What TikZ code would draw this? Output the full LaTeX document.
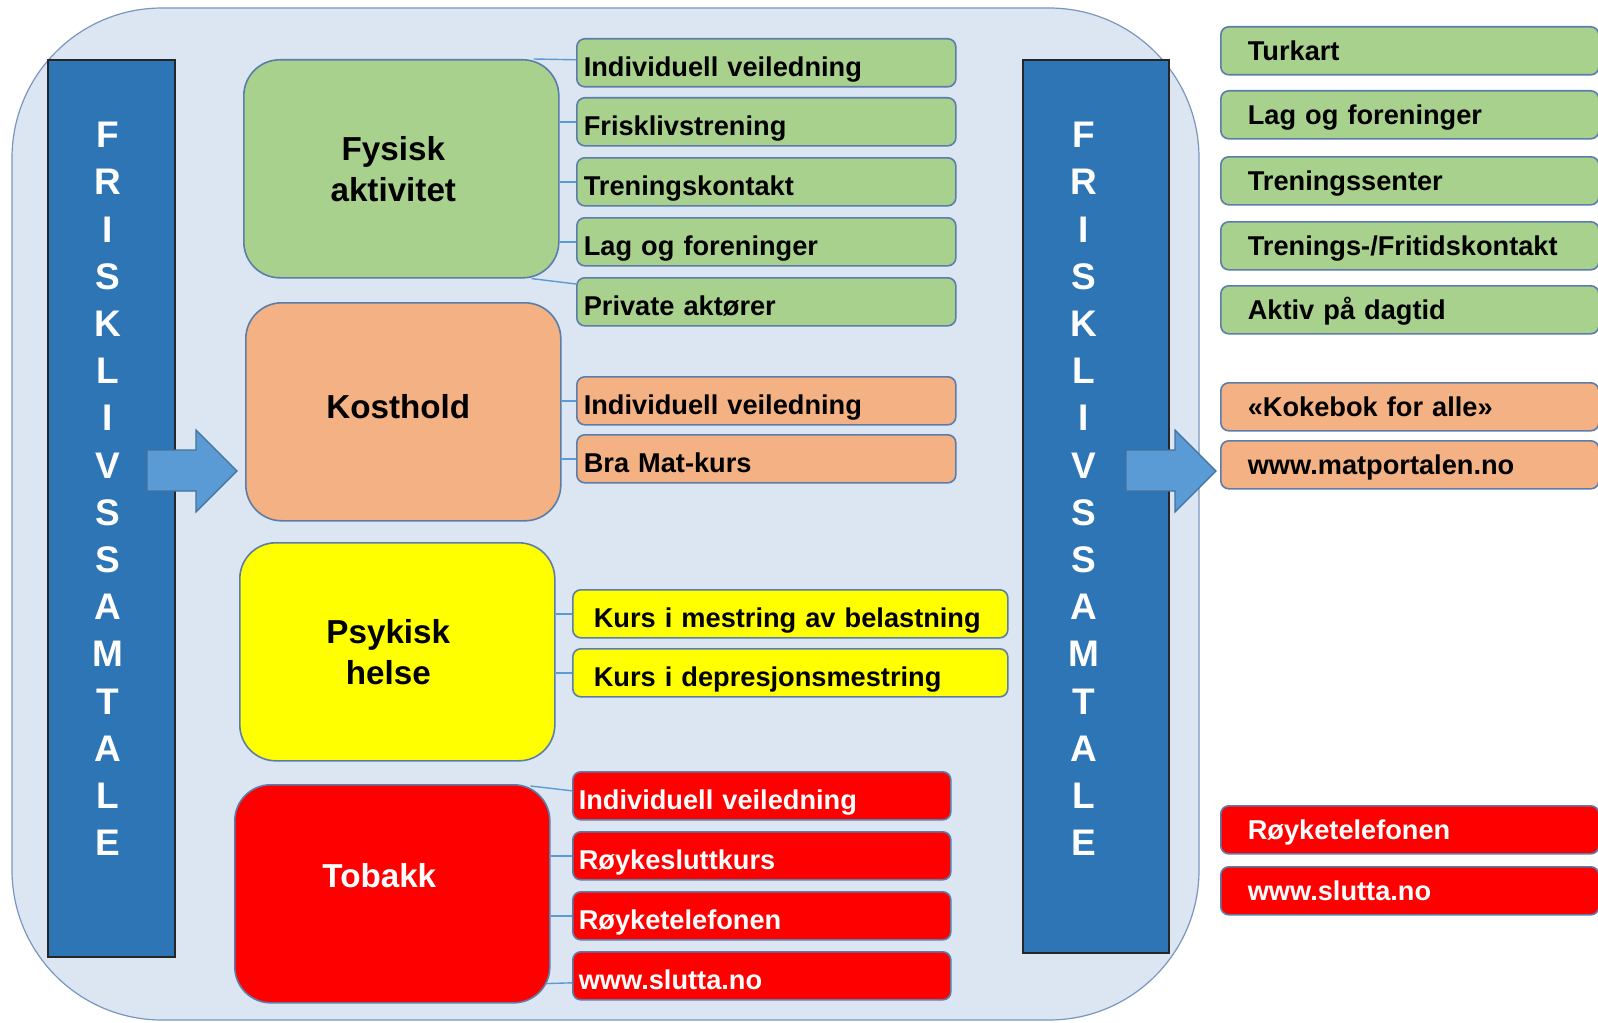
\documentclass[tikz,border=0pt]{standalone}
\usepackage{fontspec}
\setmainfont{Liberation Sans}
\usepackage{xcolor}
\usepackage{tikz}
\usetikzlibrary{calc}
\definecolor{mybg}{RGB}{220, 230, 242}
\definecolor{mybgline}{RGB}{120, 150, 190}
\definecolor{mybar}{RGB}{46, 117, 182}
\definecolor{myarrow}{RGB}{91, 155, 213}
\definecolor{myarrowline}{RGB}{65, 113, 156}
\definecolor{mygreen}{RGB}{169, 209, 142}
\definecolor{myorange}{RGB}{244, 177, 131}
\definecolor{myyellow}{RGB}{255, 255, 0}
\definecolor{myred}{RGB}{255, 0, 0}
\definecolor{myline}{RGB}{90, 125, 170}
\definecolor{mylink}{RGB}{91, 155, 213}

\newcommand{\topicfont}{\fontsize{16.6}{20.5}\selectfont\bfseries}
\newcommand{\itemfont}{\fontsize{13.6}{16}\selectfont\bfseries}
\newcommand{\barfont}{\fontsize{18.5}{23.6}\selectfont\bfseries}
\newcommand{\frisk}{F\\R\\I\\S\\K\\L\\I\\V\\S\\S\\A\\M\\T\\A\\L\\E}

\begin{document}
\begin{tikzpicture}[x=0.5pt, y=-0.5pt,
    topic/.style={draw=myline, line width=0.8pt, rounded corners=18pt, anchor=north west,
        minimum width=157.5pt, minimum height=109pt, align=center, font=\topicfont},
    item/.style={draw=myline, line width=0.8pt, rounded corners=4pt, anchor=north west,
        minimum height=24pt, inner ysep=0pt, align=left, text height=13.5pt, text depth=0pt,
        font=\itemfont},
    fysitem/.style={item, fill=mygreen, text width=182.5pt, inner xsep=3.5pt},
    kostitem/.style={item, fill=myorange, text width=182.5pt, inner xsep=3.5pt},
    psykitem/.style={item, fill=myyellow, text width=196.5pt, inner xsep=10.5pt},
    tobitem/.style={item, fill=myred, text=white, text width=183pt, inner xsep=3pt},
    ext/.style={item, text height=9.5pt, text width=162pt, inner xsep=13.5pt},
    bar/.style={draw=black!85, line width=0.8pt, fill=mybar, anchor=north west},
    barword/.style={text=white, font=\barfont, align=center, inner sep=0pt},
    fat/.style={draw=myarrowline, line width=0.6pt, fill=myarrow},
    link/.style={draw=mylink, line width=0.7pt}]
    \useasboundingbox (0,0) rectangle (1598,1022);

    % bakgrunn
    \draw[fill=mybg, draw=mybgline, line width=0.6pt, rounded corners=75pt] (12,8) rectangle (1199,1020);

    % frisklivssamtale
    \node[bar, minimum width=63.5pt, minimum height=448.5pt] (lbar) at (47,59) {};
    \node[bar, minimum width=73pt, minimum height=446.5pt] (rbar) at (1022,59) {};
    \node[barword] (lword) at (108,489) {\frisk};
    \node[barword] (rword) at (1084,489) {\frisk};

    \foreach \x in {147,1126}
        \draw[fat] (\x,450) -- (\x+49,450) -- (\x+49,430) -- (\x+90,471) -- (\x+49,512)
            -- (\x+49,491) -- (\x,491) -- cycle;

    % tema (hspace flytter teksten litt mot venstre)
    \node[topic, fill=mygreen] (fys) at (243,59) {Fysisk\hspace*{8pt}\\aktivitet\hspace*{8pt}};
    \node[topic, fill=myorange, text depth=5pt] (kost) at (245,302) {Kosthold\hspace*{5pt}};
    \node[topic, fill=myyellow] (psyk) at (239,542) {Psykisk\hspace*{9pt}\\helse\hspace*{9pt}};
    \node[topic, fill=myred, text=white, text depth=18pt] (tob) at (234,784) {Tobakk\hspace*{13pt}};

    % tilbud
    \node[fysitem] (f1) at (576,38) {Individuell veiledning};
    \node[fysitem] (f2) at (576,97) {Frisklivstrening};
    \node[fysitem] (f3) at (576,157) {Treningskontakt};
    \node[fysitem] (f4) at (576,217) {Lag og foreninger};
    \node[fysitem] (f5) at (576,277) {Private aktører};

    \node[kostitem] (k1) at (576,376) {Individuell veiledning};
    \node[kostitem] (k2) at (576,434) {Bra Mat-kurs};

    \node[psykitem] (p1) at (572,589) {Kurs i mestring av belastning};
    \node[psykitem] (p2) at (572,648) {Kurs i depresjonsmestring};

    \node[tobitem] (t1) at (572,771) {Individuell veiledning};
    \node[tobitem] (t2) at (572,831) {Røykesluttkurs};
    \node[tobitem] (t3) at (572,891) {Røyketelefonen};
    \node[tobitem] (t4) at (572,951) {www.slutta.no};

    \draw[link] ($(fys.north east)+(-26,0)$) -- ($(f1.west)+(0,-3)$);
    \foreach \n in {f2,f3,f4}
        \draw[link] (fys.east |- \n.west) -- (\n.west);
    \draw[link] ($(fys.south east)+(-28,0)$) -- ($(f5.north west)+(0,7)$);
    \foreach \n in {k1,k2}
        \draw[link] (kost.east |- \n.west) -- (\n.west);
    \foreach \n in {p1,p2}
        \draw[link] (psyk.east |- \n.west) -- (\n.west);
    \draw[link] ($(tob.north east)+(-20,2)$) -- ($(t1.west)+(0,-5)$);
    \foreach \n in {t2,t3}
        \draw[link] (tob.east |- \n.west) -- (\n.west);
    \draw[link] ($(tob.south east)+(-5,-20)$) -- ($(t4.west)+(0,7)$);

    % videre
    \node[ext, fill=mygreen] (e1) at (1220,26) {Turkart};
    \node[ext, fill=mygreen] (e2) at (1220,90) {Lag og foreninger};
    \node[ext, fill=mygreen] (e3) at (1220,156) {Treningssenter};
    \node[ext, fill=mygreen] (e4) at (1220,221) {Trenings-/Fritidskontakt};
    \node[ext, fill=mygreen] (e5) at (1220,285) {Aktiv på dagtid};
    \node[ext, fill=myorange] (e6) at (1220,382) {«Kokebok for alle»};
    \node[ext, fill=myorange] (e7) at (1220,440) {www.matportalen.no};
    \node[ext, fill=myred, text=white] (e8) at (1220,805) {Røyketelefonen};
    \node[ext, fill=myred, text=white] (e9) at (1220,866) {www.slutta.no};
\end{tikzpicture}
\end{document}
